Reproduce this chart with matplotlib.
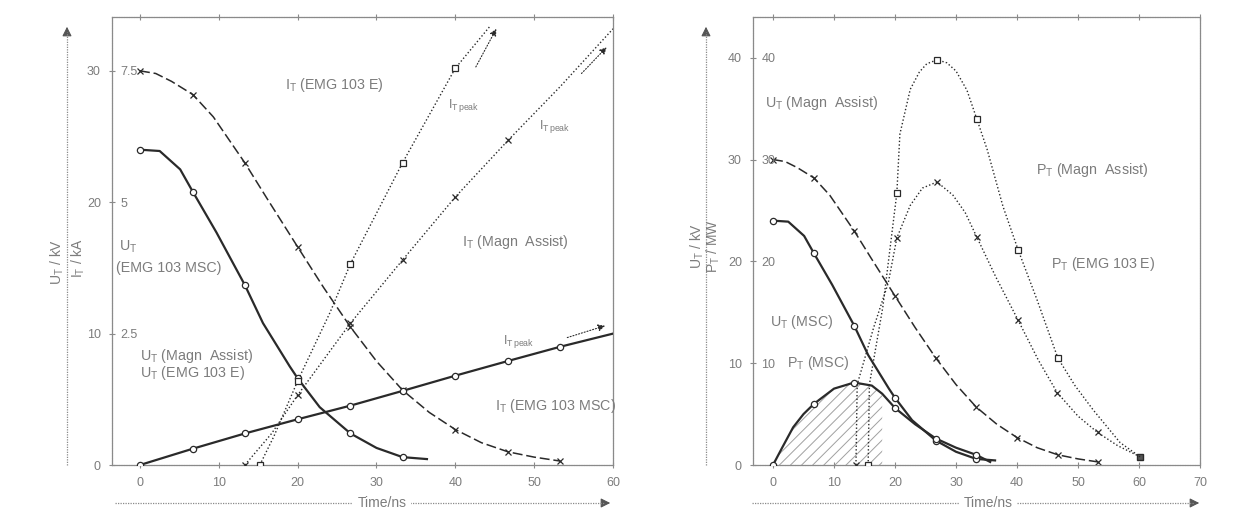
import matplotlib
matplotlib.use('Agg')
import matplotlib.pyplot as plt
from matplotlib.lines import Line2D
from matplotlib.patches import FancyArrowPatch

plt.rcParams['font.family'] = ['Liberation Sans', 'DejaVu Sans']
plt.rcParams['mathtext.fontset'] = 'custom'
plt.rcParams['mathtext.rm'] = 'Liberation Sans'
plt.rcParams['mathtext.it'] = 'Liberation Sans:italic'
plt.rcParams['mathtext.bf'] = 'Liberation Sans:bold'
plt.rcParams['hatch.linewidth'] = 0.7

TXT = '#7c7c7c'
INK = '#2a2a2a'
FRAME = '#8a8a8a'

# ---------------- data ----------------
# common voltage curves (kV) vs time (ns)
t_u_ma = [0, 2, 4, 6.7, 9.3, 13.3, 16.1, 20, 23.3, 26.7, 30, 33.3, 36.7, 40, 43.3, 46.7, 50, 53.3]
u_ma = [30, 29.8, 29.2, 28.2, 26.5, 23.0, 20.3, 16.6, 13.5, 10.5, 7.9, 5.7, 4.0, 2.7, 1.7, 1.0, 0.6, 0.3]
mk_u_ma = [0, 3, 5, 7, 9, 11, 13, 15, 17]

t_u_msc = [0, 2.5, 5.1, 6.7, 9.7, 13.3, 15.6, 19.0, 20, 22.8, 26.7, 30, 33.3, 36.4]
u_msc = [24.0, 23.9, 22.5, 20.8, 17.7, 13.7, 10.8, 7.5, 6.6, 4.4, 2.4, 1.3, 0.6, 0.45]
mk_u_msc = [0, 3, 5, 8, 10, 12]

# currents (kA)
t_i_msc = [0, 6.7, 13.3, 20, 26.7, 33.3, 40, 46.7, 53.3, 60]
i_msc = [0, 0.31, 0.60, 0.87, 1.13, 1.41, 1.70, 1.98, 2.25, 2.5]
mk_i_msc = [0, 1, 2, 3, 4, 5, 6, 7, 8]

t_i_e = [15.2, 17.0, 20, 24.1, 26.7, 33.3, 40, 44.4]
i_e = [0, 0.55, 1.6, 2.9, 3.83, 5.75, 7.55, 8.35]
mk_i_e = [0, 2, 4, 5, 6]

t_i_ma = [13.3, 16.7, 20, 26.7, 33.3, 40, 46.7, 53.3, 60]
i_ma = [0, 0.6, 1.33, 2.7, 3.9, 5.1, 6.18, 7.2, 8.3]
mk_i_ma = [0, 2, 3, 4, 5, 6]

# powers (MW)
t_p_msc = [0, 1.5, 3.3, 5, 6.7, 10, 13.3, 16.2, 17.9, 20, 23.3, 26.7, 30, 33.3, 35.6]
p_msc = [0, 1.7, 3.7, 5.0, 6.0, 7.5, 8.1, 7.8, 7.0, 5.6, 4.0, 2.6, 1.7, 1.0, 0.3]
mk_p_msc = [0, 4, 6, 9, 11, 13]
hatch_end = 9

t_p_e = [15.6, 15.8, 18.0, 20.3, 20.8, 22.5, 24.0, 25.2, 26.9, 28.5, 30.0, 31.8, 33.4, 35.1,
         37.7, 40.2, 43.3, 46.7, 49.5, 52.5, 56.9, 60.2]
p_e = [0, 7.9, 15.5, 26.7, 32.5, 36.9, 38.6, 39.4, 39.8, 39.5, 38.7, 36.8, 34.0, 31.0,
       25.4, 21.1, 16.2, 10.5, 7.8, 5.4, 2.2, 0.8]
mk_p_e = [0, 3, 8, 12, 15, 17]

t_p_ma = [13.6, 13.8, 16.5, 18.9, 20.3, 22.5, 24.5, 26.9, 29.5, 31.5, 33.4, 36.5, 40.2, 43.5,
          46.6, 50, 53.2, 56.5, 60.2]
p_ma = [0, 7.9, 13.5, 17.9, 22.3, 25.5, 27.2, 27.8, 26.5, 24.8, 22.4, 18.5, 14.2, 10.3,
        7.1, 4.8, 3.2, 1.9, 0.8]
mk_p_ma = [0, 4, 7, 10, 12, 14, 16]

# tick labels
x_ticks_l = [0, 10, 20, 30, 40, 50, 60]
x_ticks_r = [0, 10, 20, 30, 40, 50, 60, 70]
kv_ticks_l = [0, 10, 20, 30]
ka_ticks_l = [2.5, 5, 7.5]
ka_labels_l = ['2.5', '5', '7.5']
kv_ticks_r = [0, 10, 20, 30, 40]
mw_ticks_r = [10, 20, 30, 40]
KV_PER_KA = 4.0

W, H = 1235, 509
fig = plt.figure(figsize=(W / 100, H / 100), dpi=100)


def fx(px):
    return px / W


def fy(py):
    return 1 - py / H


def frame_style(ax):
    for s in ax.spines.values():
        s.set_color(FRAME)
        s.set_linewidth(0.9)
        s.set_linestyle((0, (1.2, 0.8)))
    ax.tick_params(axis='both', which='both', direction='inout', length=4, width=0.8,
                   color=FRAME, labelcolor=TXT, labelsize=9, top=True, right=True)
    ax.tick_params(axis='x', pad=7)
    ax.tick_params(axis='y', pad=6)


def inner_axis(ax, ticks, labels, ylim):
    a2 = ax.twinx()
    a2.set_ylim(*ylim)
    a2.yaxis.set_ticks_position('left')
    a2.set_yticks(ticks)
    a2.set_yticklabels(labels)
    a2.tick_params(axis='y', direction='in', length=0, pad=-6, labelcolor=TXT, labelsize=9)
    for l in a2.get_yticklabels():
        l.set_horizontalalignment('left')
    for s in a2.spines.values():
        s.set_visible(False)
    return a2


mk_o = dict(marker='o', ms=4.5, mfc='white', mec=INK, mew=0.9)
mk_x = dict(marker='x', ms=4.5, mec=INK, mew=0.9)
mk_s = dict(marker='s', ms=4, mfc='white', mec=INK, mew=0.9)
DASH = (0, (6.5, 2.5))
DOT = (0, (1, 1.6))

# ---------------- left panel ----------------
axl = fig.add_axes([fx(112), fy(465), fx(613 - 112), (465 - 17) / H])
axl.set_xlim(-3.55, 60)
axl.set_ylim(0, 34.1)
frame_style(axl)
axl.set_xticks(x_ticks_l)
axl.set_yticks(kv_ticks_l)
axl2 = inner_axis(axl, ka_ticks_l, ka_labels_l, (0, 34.1 / KV_PER_KA))

axl.plot(t_u_ma, u_ma, color=INK, lw=1.1, ls=DASH, markevery=mk_u_ma, **mk_x)
axl.plot(t_u_msc, u_msc, color=INK, lw=1.6, markevery=mk_u_msc, **mk_o)
axl2.plot(t_i_msc, i_msc, color=INK, lw=1.6, markevery=mk_i_msc, **mk_o)
axl2.plot(t_i_e, i_e, color=INK, lw=1.0, ls=DOT, markevery=mk_i_e, **mk_s)
axl2.plot(t_i_ma, i_ma, color=INK, lw=1.0, ls=DOT, markevery=mk_i_ma, **mk_x)

arr_kw = dict(arrowstyle='-|>', color=INK, lw=0.8, linestyle=':', mutation_scale=10, shrinkA=0, shrinkB=0)
axl.annotate('', xy=(45.2, 33.2), xytext=(42.6, 30.3), arrowprops=arr_kw)
axl.annotate('', xy=(59.2, 31.8), xytext=(56.0, 29.8), arrowprops=arr_kw)
axl.annotate('', xy=(59.0, 10.6), xytext=(54.2, 9.7), arrowprops=arr_kw)

tk = dict(color=TXT, fontsize=10.3)
axl.text(18.4, 28.9, r'I$_\mathrm{T}$ (EMG 103 E)', va='center', **tk)
axl.text(39.1, 27.4, r'I$_\mathrm{T\,peak}$', va='center', fontsize=9, color=TXT)
axl.text(50.6, 25.8, r'I$_\mathrm{T\,peak}$', va='center', fontsize=9, color=TXT)
axl.text(40.8, 17.0, r'I$_\mathrm{T}$ (Magn  Assist)', va='center', **tk)
axl.text(-2.6, 16.6, r'U$_\mathrm{T}$', va='center', **tk)
axl.text(-3.1, 15.0, '(EMG 103 MSC)', va='center', **tk)
axl.text(0.0, 8.3, r'U$_\mathrm{T}$ (Magn  Assist)', va='center', **tk)
axl.text(0.0, 7.0, r'U$_\mathrm{T}$ (EMG 103 E)', va='center', **tk)
axl.text(46.0, 9.4, r'I$_\mathrm{T\,peak}$', va='center', fontsize=9, color=TXT)
axl.text(45.0, 4.5, r'I$_\mathrm{T}$ (EMG 103 MSC)', va='center', **tk)

# ---------------- right panel ----------------
axr = fig.add_axes([fx(753), fy(465), fx(1200 - 753), (465 - 17) / H])
axr.set_xlim(-3.28, 70)
axr.set_ylim(0, 44.0)
frame_style(axr)
axr.set_xticks(x_ticks_r)
axr.set_yticks(kv_ticks_r)
axr2 = inner_axis(axr, mw_ticks_r, [str(v) for v in mw_ticks_r], (0, 44.0))

axr.plot(t_u_ma, u_ma, color=INK, lw=1.1, ls=DASH, markevery=mk_u_ma, **mk_x)
axr.plot(t_u_msc, u_msc, color=INK, lw=1.6, markevery=mk_u_msc, **mk_o)
axr2.fill_between(t_p_msc[:hatch_end], 0, p_msc[:hatch_end], facecolor='none', edgecolor='#a0a0a0',
                  hatch='///', lw=0)
axr2.plot(t_p_msc, p_msc, color=INK, lw=1.6, markevery=mk_p_msc, **mk_o)
axr2.plot(t_p_e, p_e, color=INK, lw=1.0, ls=DOT, markevery=mk_p_e, **mk_s)
axr2.plot(t_p_e[-1:], p_e[-1:], ls='none', marker='s', ms=4.5, mfc='#555555', mec=INK)
axr2.plot(t_p_ma, p_ma, color=INK, lw=1.0, ls=DOT, markevery=mk_p_ma, **mk_x)

axr.text(-1.3, 35.6, r'U$_\mathrm{T}$ (Magn  Assist)', va='center', **tk)
axr.text(43.1, 29.0, r'P$_\mathrm{T}$ (Magn  Assist)', va='center', **tk)
axr.text(45.6, 19.7, r'P$_\mathrm{T}$ (EMG 103 E)', va='center', **tk)
axr.text(-0.5, 14.0, r'U$_\mathrm{T}$ (MSC)', va='center', **tk)
axr.text(2.3, 10.0, r'P$_\mathrm{T}$ (MSC)', va='center', **tk)

# ---------------- outer axis arrows and titles ----------------
def vline_arrow(x, y0, y1):
    fig.add_artist(Line2D([fx(x), fx(x)], [fy(y0), fy(y1 + 8)], transform=fig.transFigure,
                          color='#8a8a8a', lw=0.9, ls=(0, (1, 1))))
    fig.add_artist(FancyArrowPatch((fx(x), fy(y1 + 12)), (fx(x), fy(y1)), transform=fig.transFigure,
                                   arrowstyle='-|>', mutation_scale=14, color='#555555', lw=0.8))


def hline_arrow(x0, x1, y, tx, label):
    fig.add_artist(Line2D([fx(x0), fx(x1 - 8)], [fy(y), fy(y)], transform=fig.transFigure,
                          color='#8a8a8a', lw=0.9, ls=(0, (1, 1))))
    fig.add_artist(FancyArrowPatch((fx(x1 - 14), fy(y)), (fx(x1), fy(y)), transform=fig.transFigure,
                                   arrowstyle='-|>', mutation_scale=14, color='#555555', lw=0.8))
    fig.text(fx(tx), fy(y), label, ha='center', va='center', color=TXT, fontsize=10,
             bbox=dict(facecolor='white', edgecolor='none', pad=3))


vline_arrow(67, 465, 24)
vline_arrow(706, 465, 24)
hline_arrow(115, 613, 503, 382, 'Time/ns')
hline_arrow(752, 1202, 503, 988, 'Time/ns')

fig.text(fx(57), fy(262), r'U$_\mathrm{T}$ / kV', rotation=90, ha='center', va='center', color=TXT, fontsize=10)
fig.text(fx(78), fy(258), r'I$_\mathrm{T}$ / kA', rotation=90, ha='center', va='center', color=TXT, fontsize=10)
fig.text(fx(697), fy(246), r'U$_\mathrm{T}$ / kV', rotation=90, ha='center', va='center', color=TXT, fontsize=10)
fig.text(fx(713), fy(246), r'P$_\mathrm{T}$ / MW', rotation=90, ha='center', va='center', color=TXT, fontsize=10)

fig.savefig('out.png', dpi=100, facecolor='white')
